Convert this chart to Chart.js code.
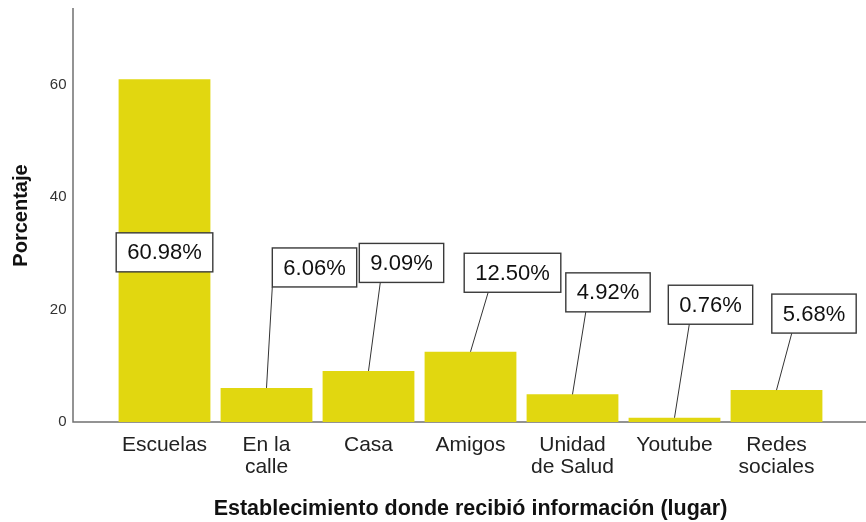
<!DOCTYPE html>
<html>
<head>
<meta charset="utf-8">
<script src="https://cdn.jsdelivr.net/npm/chart.js@4.4.1/dist/chart.umd.min.js"></script>
<style>
  html, body { margin: 0; padding: 0; background: #fff; }
  #wrap { width: 866px; height: 522px; position: relative; }
</style>
</head>
<body>
<div id="wrap"><canvas id="lugarChart"></canvas></div>
<script>
// data
const categories = [['Escuelas'], ['En la', 'calle'], ['Casa'], ['Amigos'], ['Unidad', 'de Salud'], ['Youtube'], ['Redes', 'sociales']];
const percentages = [60.98, 6.06, 9.09, 12.50, 4.92, 0.76, 5.68];
const yTicks = [0, 20, 40, 60];
const yMax = 73.5;

// callout placement (pixels relative to the top of each bar)
const calloutDx = [0, 48, 33, 42, 35.5, 36, 37.5];
const calloutDy = [173, -120.5, -108, -79, -102, -113, -76.5];
const calloutLeader = [null, 0, 21, 24, 20, 21, 20];

const FONT = '"Liberation Sans", Arial, sans-serif';
const BAR_COLOR = '#e1d710';

// axis lines like SPSS: y axis stands left of the plot area, x axis runs to the edge
const axisLines = {
  id: 'axisLines',
  beforeDatasetsDraw(chart) {
    const { ctx, chartArea } = chart;
    ctx.save();
    ctx.strokeStyle = '#707070';
    ctx.lineWidth = 1.5;
    ctx.beginPath();
    ctx.moveTo(73, chartArea.top - 1);
    ctx.lineTo(73, chartArea.bottom);
    ctx.lineTo(chart.width, chartArea.bottom);
    ctx.stroke();
    ctx.restore();
  }
};

const callouts = {
  id: 'callouts',
  afterDatasetsDraw(chart) {
    const { ctx } = chart;
    const meta = chart.getDatasetMeta(0);
    ctx.save();
    ctx.font = '22px ' + FONT;
    ctx.textAlign = 'center';
    ctx.textBaseline = 'middle';
    meta.data.forEach((bar, i) => {
      const text = percentages[i].toFixed(2) + '%';
      const w = ctx.measureText(text).width + 22;
      const h = 39;
      const cx = bar.x + calloutDx[i];
      const cy = bar.y + calloutDy[i];
      const left = cx - w / 2, top = cy - h / 2;
      if (calloutLeader[i] !== null) {
        ctx.strokeStyle = '#333';
        ctx.lineWidth = 1;
        ctx.beginPath();
        ctx.moveTo(bar.x, bar.y);
        ctx.lineTo(left + calloutLeader[i], top + h);
        ctx.stroke();
      }
      ctx.fillStyle = '#fff';
      ctx.fillRect(left, top, w, h);
      ctx.strokeStyle = '#3a3a3a';
      ctx.lineWidth = 1.4;
      ctx.strokeRect(left, top, w, h);
      ctx.fillStyle = '#111';
      ctx.fillText(text, cx, cy + 1);
    });
    ctx.restore();
  }
};

new Chart(document.getElementById('lugarChart'), {
  type: 'bar',
  data: {
    labels: categories,
    datasets: [{
      label: 'Porcentaje',
      data: percentages,
      backgroundColor: BAR_COLOR,
      borderWidth: 0,
      barPercentage: 0.9,
      categoryPercentage: 1.0
    }]
  },
  options: {
    responsive: true,
    maintainAspectRatio: false,
    animation: false,
    layout: { padding: { top: 9, right: 38.5, left: 0, bottom: 0 } },
    plugins: {
      legend: { display: false },
      tooltip: { enabled: false }
    },
    scales: {
      x: {
        grid: { display: false, drawTicks: false },
        border: { display: false },
        ticks: {
          color: '#222',
          font: { family: FONT, size: 21, lineHeight: 1.05 },
          padding: 12,
          maxRotation: 0,
          autoSkip: false
        },
        title: {
          display: true,
          text: 'Establecimiento donde recibió información (lugar)',
          color: '#111',
          font: { family: FONT, size: 21.5, weight: 'bold' },
          padding: { top: 4, bottom: 0 }
        },
        afterFit(scale) { scale.height = 100; }
      },
      y: {
        min: 0,
        max: yMax,
        grid: { display: false, drawTicks: false },
        border: { display: false },
        afterBuildTicks(scale) { scale.ticks = yTicks.map(v => ({ value: v })); },
        ticks: {
          color: '#333',
          font: { family: FONT, size: 15 },
          padding: 47
        },
        title: {
          display: true,
          text: 'Porcentaje',
          color: '#111',
          font: { family: FONT, size: 20, weight: 'bold' },
          padding: { top: 9, bottom: 0 }
        },
        afterFit(scale) {
          scale.width = 113.5;
          scale.paddingTop = 0;
          scale.paddingBottom = 0;
        }
      }
    }
  },
  plugins: [axisLines, callouts]
});
</script>
</body>
</html>
